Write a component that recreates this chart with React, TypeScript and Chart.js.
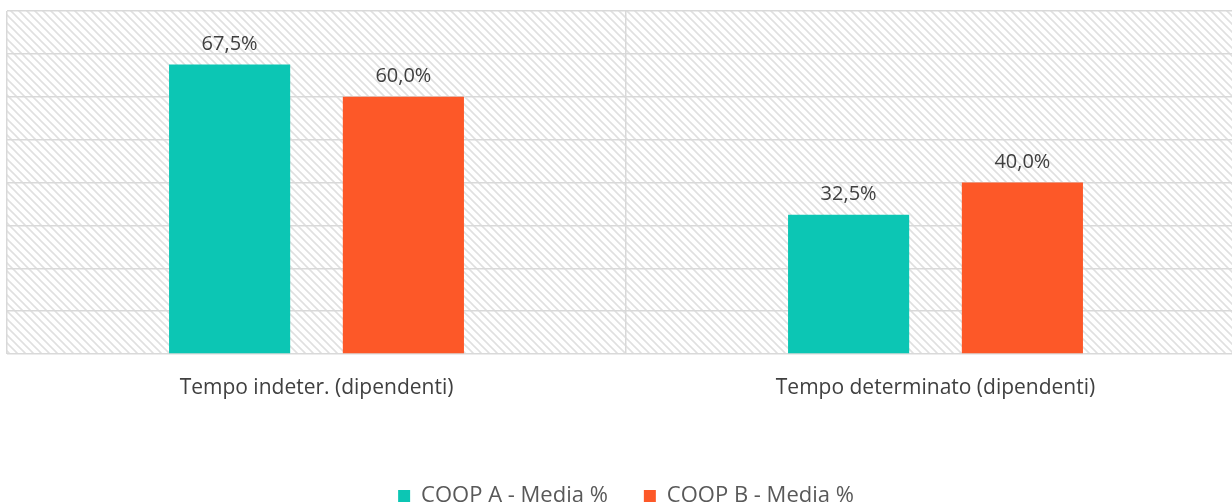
import React, { useEffect, useRef } from "react";
import { Chart, registerables } from "chart.js";

Chart.register(...registerables);

const categories = ["Tempo indeter. (dipendenti)", "Tempo determinato (dipendenti)"];
const seriesNames = ["COOP A - Media %", "COOP B - Media %"];
const coopA = [67.5, 32.5];
const coopB = [60.0, 40.0];
const seriesColors = ["#0CC6B4", "#FD5828"];
const yMax = 80;
const yStep = 10;

const FONT = "'Open Sans', Lato, sans-serif";

function makePattern(): CanvasPattern | string {
  const c = document.createElement("canvas");
  c.width = 8;
  c.height = 8;
  const g = c.getContext("2d");
  if (!g) return "#fff";
  g.fillStyle = "#ffffff";
  g.fillRect(0, 0, 8, 8);
  g.strokeStyle = "#e0e0e0";
  g.lineWidth = 1.6;
  g.beginPath();
  g.moveTo(-2, -2);
  g.lineTo(10, 10);
  g.moveTo(-10, -2);
  g.lineTo(2, 10);
  g.moveTo(6, -2);
  g.lineTo(18, 10);
  g.stroke();
  const p = g.createPattern(c, "repeat");
  return p || "#fff";
}

const bgPlugin = {
  id: "hatchBg",
  beforeDraw(chart: any) {
    const { ctx, chartArea } = chart;
    if (!chartArea) return;
    ctx.save();
    ctx.fillStyle = makePattern();
    ctx.fillRect(chartArea.left, chartArea.top, chartArea.right - chartArea.left, chartArea.bottom - chartArea.top);
    ctx.restore();
  },
};

const labelPlugin = {
  id: "valueLabels",
  afterDatasetsDraw(chart: any) {
    const { ctx } = chart;
    ctx.save();
    ctx.font = `20px ${FONT}`;
    ctx.fillStyle = "#404040";
    ctx.textAlign = "center";
    ctx.textBaseline = "middle";
    chart.data.datasets.forEach((ds: any, i: number) => {
      const meta = chart.getDatasetMeta(i);
      meta.data.forEach((bar: any, j: number) => {
        const v = ds.data[j] as number;
        const txt = v.toFixed(1).replace(".", ",") + "%";
        ctx.fillText(txt, bar.x, bar.y - 20);
      });
    });
    ctx.restore();
  },
};

export default function App() {
  const ref = useRef<HTMLCanvasElement | null>(null);
  useEffect(() => {
    document.documentElement.style.overflow = "hidden";
    document.body.style.overflow = "hidden";
    if (!ref.current) return;
    const chart = new Chart(ref.current, {
      type: "bar",
      data: {
        labels: categories,
        datasets: [
          { label: seriesNames[0], data: coopA, backgroundColor: seriesColors[0], categoryPercentage: 0.5615, barPercentage: 0.697 },
          { label: seriesNames[1], data: coopB, backgroundColor: seriesColors[1], categoryPercentage: 0.5615, barPercentage: 0.697 },
        ],
      },
      options: {
        responsive: false,
        animation: false,
        layout: { padding: { left: 7, right: 5, top: 11, bottom: 0 } },
        scales: {
          x: {
            offset: true,
            grid: { offset: true, color: "#d9d9d9", lineWidth: 1.5, drawTicks: false },
            border: { display: false },
            ticks: { padding: 21, color: "#404040", font: { family: FONT, size: 21 } },
            afterFit: (scale: any) => {
              scale.height = 95;
            },
          },
          y: {
            min: 0,
            max: yMax,
            ticks: { display: false, stepSize: yStep },
            grid: { color: "#d9d9d9", lineWidth: 1.5, drawTicks: false },
            border: { display: false },
          },
        },
        plugins: {
          legend: {
            position: "bottom",
            labels: {
              boxWidth: 12,
              boxHeight: 12,
              padding: 36,
              color: "#595959",
              font: { family: FONT, size: 22 },
            },
          },
          tooltip: { enabled: false },
        },
      },
      plugins: [bgPlugin, labelPlugin],
    });
    return () => chart.destroy();
  }, []);
  return (
    <div style={{ position: "absolute", left: 0, top: 0, width: 1250, height: 517 }}>
      <canvas ref={ref} width={1250} height={517} style={{ display: "block" }} />
    </div>
  );
}
